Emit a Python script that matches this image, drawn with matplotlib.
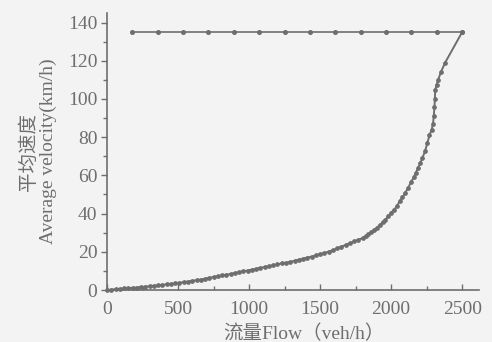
import matplotlib
matplotlib.use("Agg")
import matplotlib.pyplot as plt
from matplotlib.ticker import MultipleLocator

# Upper (free-flow) branch
upper_flow = [178.6, 357.1, 535.7, 714.3, 892.9, 1071.4, 1250.0, 1428.6,
              1607.1, 1785.7, 1964.3, 2142.9, 2321.4, 2500.0]
upper_speed = [135, 135, 135, 135, 135, 135, 135, 135, 135, 135, 135, 135, 135, 135]

# Lower (congested) branch
lower_flow = [0, 30, 60, 90, 120, 150, 180, 210, 240, 270, 300, 330, 360, 390, 420,
              450, 480, 510, 540, 570, 600, 630, 660, 690, 720, 750, 780, 810, 840,
              870, 900, 930, 960, 990, 1020, 1050, 1080, 1110, 1140, 1170, 1200,
              1230, 1260, 1290, 1320, 1350, 1380, 1410, 1440, 1470, 1500, 1530,
              1560, 1590, 1620, 1650, 1680, 1710, 1740, 1770, 1800, 1820, 1840,
              1860, 1880, 1900, 1920, 1940, 1960, 1980, 2000, 2020, 2040, 2060,
              2080, 2100, 2120, 2140, 2160, 2175, 2190, 2205, 2220, 2240, 2255,
              2270, 2285, 2295, 2300, 2305, 2308, 2310, 2320, 2331, 2350, 2380, 2500]
lower_speed = [0, 0.2, 0.4, 0.6, 0.8, 1.0, 1.15, 1.3, 1.5, 1.75, 2.0, 2.2, 2.45, 2.7,
               2.95, 3.2, 3.5, 3.8, 4.1, 4.45, 4.8, 5.15, 5.5, 5.9, 6.4, 6.8, 7.2,
               7.6, 8.0, 8.4, 8.9, 9.3, 9.8, 10.2, 10.7, 11.1, 11.6, 12.0, 12.5,
               12.9, 13.4, 13.9, 14.3, 14.7, 15.3, 15.9, 16.4, 17.0, 17.5, 18.1,
               18.8, 19.4, 20.1, 20.8, 21.8, 22.7, 23.6, 24.5, 25.4, 26.3, 27.2,
               28.2, 29.2, 30.2, 31.4, 32.6, 34.0, 35.4, 36.8, 38.6, 40.5, 42.0,
               43.8, 46.5, 48.5, 51.0, 53.5, 56.5, 59.0, 61.5, 64.0, 66.5, 69.0,
               73.0, 77.0, 81.0, 84.0, 87.0, 91.0, 95.6, 100.0, 104.5, 107.5,
               110.0, 114.0, 119.0, 135.0]

xticks = [0, 500, 1000, 1500, 2000, 2500]
yticks = [0, 20, 40, 60, 80, 100, 120, 140]

gray = "#6e6e6e"
fam = ["Liberation Serif", "Noto Sans CJK SC"]
plt.rcParams["font.family"] = fam

fig = plt.figure(figsize=(4.92, 3.42), dpi=100)
fig.patch.set_facecolor("#f3f3f3")
ax = fig.add_axes([0.2175, 0.152, 0.7565, 0.81])
ax.set_facecolor("#f3f3f3")

ax.plot(upper_flow, upper_speed, color=gray, lw=1.2, marker="o", ms=2.6, clip_on=False)
ax.plot(lower_flow, lower_speed, color=gray, lw=1.4, marker="o", ms=2.4, clip_on=False)

ax.set_xlim(0, 2620)
ax.set_ylim(0, 145)
ax.set_xticks(xticks)
ax.set_yticks(yticks)
ax.xaxis.set_minor_locator(MultipleLocator(250))
ax.yaxis.set_minor_locator(MultipleLocator(10))
for s in ["top", "right"]:
    ax.spines[s].set_visible(False)
for s in ["left", "bottom"]:
    ax.spines[s].set_color(gray)
    ax.spines[s].set_linewidth(1.2)
ax.tick_params(axis="both", which="major", colors=gray, labelsize=14, length=4, width=1)
ax.tick_params(axis="both", which="minor", colors=gray, length=3, width=1)
ax.tick_params(axis="x", which="both", direction="in", pad=8)
ax.tick_params(axis="y", which="major", pad=3)
ax.set_xlabel("流量Flow（veh/h）", color=gray, fontsize=14, labelpad=2)
ax.xaxis.set_label_coords(0.53, -0.125)
ax.set_ylabel("平均速度\nAverage velocity(km/h)", color=gray, fontsize=14, labelpad=8,
              linespacing=1.1)

fig.savefig("out.png", dpi=100, facecolor=fig.get_facecolor())
